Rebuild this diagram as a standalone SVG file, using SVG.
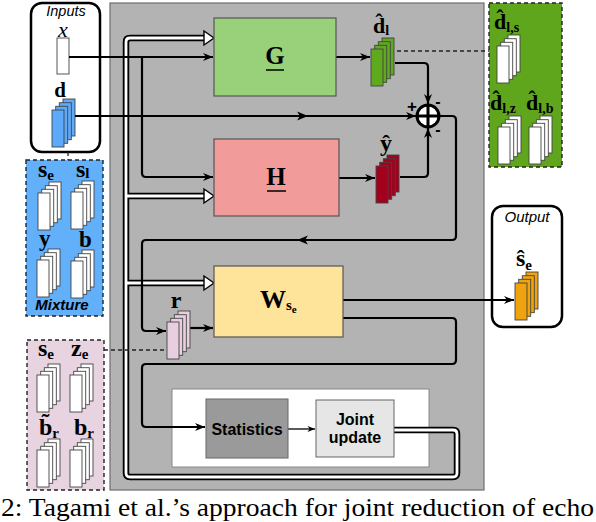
<svg xmlns="http://www.w3.org/2000/svg" width="596" height="522" viewBox="0 0 596 522">
<defs>
<style>
.ln{fill:none;stroke:#000;stroke-width:2.2;stroke-linejoin:round}
.ds{fill:none;stroke:#222;stroke-width:1.3;stroke-dasharray:4 3}
.pb{fill:none;stroke:#000;stroke-width:6.5;stroke-linejoin:round}
.pw{fill:none;stroke:#fff;stroke-width:2.8;stroke-linejoin:round}
.wa{fill:#fff;stroke:#000;stroke-width:1.4;stroke-linejoin:miter}
.lb{font-family:"Liberation Serif","Times New Roman",serif;font-weight:bold;fill:#000}
.sf{font-family:"Liberation Sans",Arial,sans-serif;fill:#000}
.box{stroke:#555;stroke-width:1.2}
.dsh{stroke:#222;stroke-width:1.4;stroke-dasharray:4 3}
</style>
<marker id="ah" viewBox="0 0 10 8" refX="10" refY="4" markerWidth="10" markerHeight="8" markerUnits="userSpaceOnUse" orient="auto">
<path d="M0,0 L10,4 L0,8 L3,4 z" fill="#000"/>
</marker>
<marker id="ahs" viewBox="0 0 10 8" refX="10" refY="4" markerWidth="8" markerHeight="6" markerUnits="userSpaceOnUse" orient="auto">
<path d="M0,0 L10,4 L0,8 L3,4 z" fill="#000"/>
</marker>
<g id="stk" stroke="#444" stroke-width="0.9">
<rect x="11" y="-11" width="12" height="37"/>
<rect x="7.3" y="-7.3" width="12" height="37"/>
<rect x="3.7" y="-3.7" width="12" height="37"/>
<rect x="0" y="0" width="12" height="37"/>
</g>
</defs>

<rect width="596" height="522" fill="#fff"/>

<g id="main">
<rect x="110" y="3" width="374" height="487" fill="#b3b3b3" stroke="#6e6e6e" stroke-width="1.2"/>
<rect x="172" y="389" width="257" height="78" fill="#fff" stroke="#888" stroke-width="1"/>
</g>

<g id="inputs">
<rect x="31" y="3" width="69" height="149" rx="11" fill="#fff" stroke="#000" stroke-width="2.5"/>
<text x="66" y="16" class="sf" font-style="italic" font-size="14.5" text-anchor="middle">Inputs</text>
<text x="63" y="37" font-family="Liberation Serif,serif" font-style="italic" font-size="22" text-anchor="middle">x</text>
<rect x="57" y="38" width="12" height="36" fill="#fff" stroke="#444" stroke-width="0.9"/>
<text x="60" y="97" class="lb" font-size="21" text-anchor="middle">d</text>
<use href="#stk" x="52" y="110" fill="#5eaafa"/>
</g>

<g id="mixture">
<rect x="26" y="160" width="77" height="156" fill="#62affa" class="dsh"/>
<text x="38" y="177" class="lb" font-size="24">s<tspan font-size="15" dy="3">e</tspan></text>
<text x="76" y="177" class="lb" font-size="24">s<tspan font-size="15" dy="1">l</tspan></text>
<use href="#stk" x="38" y="193" fill="#fff"/>
<use href="#stk" x="71" y="192" fill="#fff"/>
<text x="39" y="246" class="lb" font-size="23">y</text>
<text x="79" y="247" class="lb" font-size="23">b</text>
<use href="#stk" x="37" y="260" fill="#fff"/>
<use href="#stk" x="71" y="261" fill="#fff"/>
<text x="62" y="310" class="sf" font-style="italic" font-weight="bold" font-size="15" text-anchor="middle">Mixture</text>
</g>

<g id="priors">
<rect x="27" y="340" width="77" height="150" fill="#e8d3e1" class="dsh"/>
<text x="38" y="356" class="lb" font-size="24">s<tspan font-size="15" dy="3">e</tspan></text>
<text x="71" y="356" class="lb" font-size="24">z<tspan font-size="15" dy="3">e</tspan></text>
<use href="#stk" x="37" y="375" fill="#fff"/>
<use href="#stk" x="70" y="375" fill="#fff"/>
<text x="39" y="435" class="lb" font-size="24">b&#x303;<tspan font-size="15" dy="3">r</tspan></text>
<text x="74" y="435" class="lb" font-size="24">b<tspan font-size="15" dy="3">r</tspan></text>
<use href="#stk" x="37" y="450" fill="#fff"/>
<use href="#stk" x="70" y="450" fill="#fff"/>
</g>

<g id="echo-est">
<rect x="489" y="3" width="73" height="164" fill="#5fa61d" class="dsh"/>
<text x="494" y="29" class="lb" font-size="22">d&#x302;<tspan font-size="14" dy="3">l,s</tspan></text>
<use href="#stk" x="497" y="46" fill="#fff"/>
<text x="490" y="110" class="lb" font-size="22">d&#x302;<tspan font-size="14" dy="3">l,z</tspan></text>
<text x="526" y="110" class="lb" font-size="22">d&#x302;<tspan font-size="14" dy="3">l,b</tspan></text>
<use href="#stk" x="498" y="127" fill="#fff"/>
<use href="#stk" x="529" y="127" fill="#fff"/>
</g>

<g id="output">
<rect x="492" y="206" width="70" height="121" rx="11" fill="#fff" stroke="#000" stroke-width="2.5"/>
<text x="527" y="222" class="sf" font-style="italic" font-size="15" text-anchor="middle">Output</text>
<text x="516" y="266" class="lb" font-size="24">ŝ<tspan font-size="15" dy="4">e</tspan></text>
<use href="#stk" x="515" y="283" fill="#f0a30c"/>
</g>

<g id="connectors">
<path class="pb" d="M394 430 H453 Q457 430 457 434 V473 Q457 477 453 477 H130 Q126 477 126 473 V42 Q126 38 130 38 H206 M126 196 H206 M126 283 H206"/>
<path class="pw" d="M394 430 H453 Q457 430 457 434 V473 Q457 477 453 477 H130 Q126 477 126 473 V42 Q126 38 130 38 H206 M126 196 H206 M126 283 H206"/>
<polygon class="wa" points="204,31 214,38 204,45"/>
<polygon class="wa" points="204,189 214,196 204,203"/>
<polygon class="wa" points="204,276 214,283 204,290"/>

<path class="ln" d="M69 57 H213" marker-end="url(#ah)"/>
<path class="ln" d="M142 57 V173 Q142 177 146 177 H213" marker-end="url(#ah)"/>
<path class="ln" d="M75 116 H416" marker-end="url(#ah)"/>
<polygon points="297,111.5 308,116 297,120.5 300,116" fill="#000"/>
<path class="ln" d="M336 57 H370" marker-end="url(#ah)"/>
<path class="ln" d="M395 63 H424 Q428 63 428 67 V104" marker-end="url(#ah)"/>
<path class="ln" d="M339 178 H375" marker-end="url(#ah)"/>
<path class="ln" d="M400 177 H424 Q428 177 428 173 V128" marker-end="url(#ah)"/>
<path class="ln" d="M439 116 H452 Q456 116 456 120 V236 Q456 240 452 240 H146 Q142 240 142 244 V327 Q142 331 146 331 H166" marker-end="url(#ah)"/>
<polygon points="308,235.5 297,240 308,244.5 305,240" fill="#000"/>
<path class="ln" d="M190 328 H213" marker-end="url(#ah)"/>
<path class="ln" d="M343 300 H514" marker-end="url(#ah)"/>
<path class="ln" d="M343 318 H452 Q456 318 456 322 V360 Q456 364 452 364 H146 Q142 364 142 368 V423 Q142 427 146 427 H205" marker-end="url(#ah)"/>
<path fill="none" stroke="#000" stroke-width="1.3" d="M288 429 H315" marker-end="url(#ahs)"/>

<path class="ds" d="M68 152 V160"/>
<path class="ds" d="M104 350 H167"/>
<path class="ds" d="M397 51 H489"/>
</g>

<g id="G">
<rect x="214" y="18" width="122" height="78" fill="#99d07a" class="box"/>
<text x="275" y="64" class="lb" font-size="25" text-anchor="middle">G</text>
<line x1="266" y1="70" x2="284" y2="70" stroke="#000" stroke-width="1.5"/>
</g>

<g id="H">
<rect x="214" y="139" width="125" height="77" fill="#f19c9a" class="box"/>
<text x="276" y="185" class="lb" font-size="25" text-anchor="middle">H</text>
<line x1="267" y1="191" x2="286" y2="191" stroke="#000" stroke-width="1.5"/>
</g>

<g id="W">
<rect x="214" y="266" width="129" height="71" fill="#fee39a" class="box"/>
<text x="260" y="308" class="lb" font-size="26">W<tspan font-size="15" dy="2">s</tspan><tspan font-size="11" dy="3">e</tspan></text>
</g>

<g id="dl">
<text x="373" y="33" class="lb" font-size="22">d&#x302;<tspan font-size="14" dy="2">l</tspan></text>
<use href="#stk" x="371" y="49" fill="#5fa91f"/>
</g>

<g id="yhat">
<text x="380" y="151" class="lb" font-size="24">ŷ</text>
<use href="#stk" x="376" y="166" fill="#a3001e"/>
</g>

<g id="sum">
<circle cx="428" cy="116" r="11" fill="#fff" stroke="#000" stroke-width="3"/>
<path d="M417 116 H439 M428 105 V127" stroke="#000" stroke-width="3"/>
<text x="412" y="112" class="sf" font-size="17" font-weight="bold" text-anchor="middle">+</text>
<text x="438" y="107" class="sf" font-size="16" font-weight="bold" text-anchor="middle">-</text>
<text x="438" y="135" class="sf" font-size="16" font-weight="bold" text-anchor="middle">-</text>
</g>

<g id="r">
<text x="176" y="308" class="lb" font-size="24" text-anchor="middle">r</text>
<use href="#stk" x="167" y="322" fill="#e8cfe0"/>
</g>

<g id="statistics">
<rect x="206" y="399" width="82" height="59" fill="#9a9a9a" stroke="#666" stroke-width="1"/>
<text x="247" y="435" class="sf" font-weight="bold" font-size="16" text-anchor="middle">Statistics</text>
</g>

<g id="joint">
<rect x="316" y="400" width="78" height="57" fill="#e6e6e6" stroke="#666" stroke-width="1"/>
<text x="355" y="425" class="sf" font-weight="bold" font-size="16" text-anchor="middle">Joint</text>
<text x="355" y="443" class="sf" font-weight="bold" font-size="16" text-anchor="middle">update</text>
</g>

<text x="1" y="516" font-family="Liberation Serif,'Times New Roman',serif" font-size="25" textLength="593" lengthAdjust="spacingAndGlyphs">2: Tagami et al.’s approach for joint reduction of echo</text>
</svg>
